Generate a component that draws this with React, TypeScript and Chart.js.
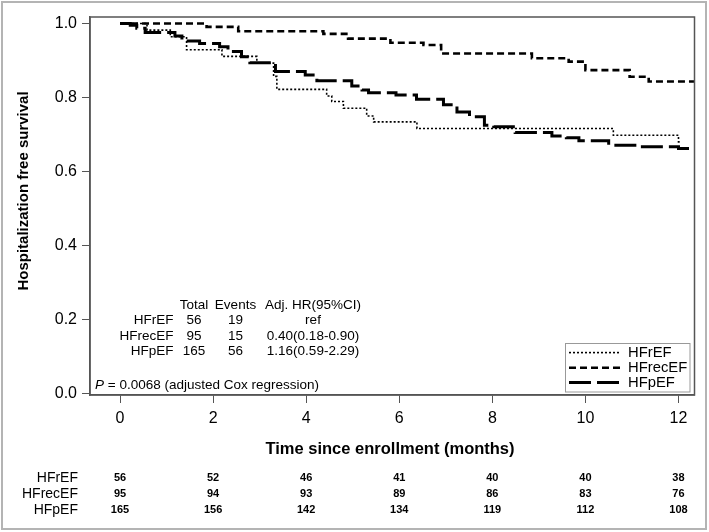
import React, { useEffect, useRef } from 'react';
import { Chart, registerables } from 'chart.js';

Chart.register(...registerables);

const FONT = '"Liberation Sans", Arial, Helvetica, sans-serif';

// ---- data ----
const groups = ['HFrEF', 'HFrecEF', 'HFpEF'];

const hfrefTime = [0, 0.58, 1.08, 1.43, 2.19, 2.94, 3.3, 3.37, 4.44, 4.55, 4.8, 5.3, 5.45, 6.38, 10.6, 12.0, 12.05];
const hfrefSurv = [1.0, 0.982, 0.964, 0.929, 0.911, 0.893, 0.857, 0.822, 0.804, 0.789, 0.771, 0.75, 0.734, 0.716, 0.698, 0.68, 0.68];

const hfrecefTime = [0, 1.86, 2.54, 4.37, 4.9, 5.81, 6.52, 6.9, 8.85, 9.64, 10.0, 10.95, 11.36, 12.36];
const hfrecefSurv = [1.0, 0.991, 0.979, 0.972, 0.959, 0.948, 0.942, 0.919, 0.906, 0.897, 0.874, 0.856, 0.843, 0.843];

const hfpefTime = [0, 0.22, 0.36, 0.54, 1.18, 1.33, 1.71, 2.14, 2.32, 2.61, 2.79, 3.34, 3.98, 4.23, 4.98, 5.2, 5.34, 5.93, 6.37, 6.95, 7.24, 7.51, 7.83, 8.03, 8.49, 9.28, 9.59, 9.86, 10.5, 11.18, 12.0, 12.36];
const hfpefSurv = [1.0, 0.995, 0.987, 0.976, 0.966, 0.953, 0.946, 0.937, 0.924, 0.91, 0.894, 0.87, 0.861, 0.845, 0.831, 0.82, 0.813, 0.807, 0.795, 0.78, 0.761, 0.748, 0.725, 0.721, 0.705, 0.696, 0.691, 0.683, 0.671, 0.667, 0.662, 0.662];

const xTicks = [0, 2, 4, 6, 8, 10, 12];
const yTicks = [0, 0.2, 0.4, 0.6, 0.8, 1.0];

const tableHeaders = ['Total', 'Events', 'Adj. HR(95%CI)'];
const totals = [56, 95, 165];
const events = [19, 15, 56];
const adjHR = ['ref', '0.40(0.18-0.90)', '1.16(0.59-2.29)'];
const pValueText = ' = 0.0068 (adjusted Cox regression)';

const riskTimes = [0, 2, 4, 6, 8, 10, 12];
const riskHFrEF = [56, 52, 46, 41, 40, 40, 38];
const riskHFrecEF = [95, 94, 93, 89, 86, 83, 76];
const riskHFpEF = [165, 156, 142, 134, 119, 112, 108];

const xTitle = 'Time since enrollment (months)';
const yTitle = 'Hospitalization free survival';

// ---- styles ----
const seriesTimes = [hfrefTime, hfrecefTime, hfpefTime];
const seriesSurv = [hfrefSurv, hfrecefSurv, hfpefSurv];
const seriesDash = [[2, 2], [7, 4], [22, 6]];
const seriesWidth = [1.6, 2.6, 3];
const riskRows = [riskHFrEF, riskHFrecEF, riskHFpEF];

const decor = {
  id: 'decor',
  beforeDraw(chart: any) {
    const { ctx, width, height } = chart;
    ctx.save();
    ctx.fillStyle = '#ffffff';
    ctx.fillRect(0, 0, width, height);
    ctx.restore();
  },
  afterDraw(chart: any) {
    const { ctx, chartArea: a, scales } = chart;
    const xs = scales.x;
    ctx.save();
    // frame
    ctx.setLineDash([]);
    ctx.strokeStyle = '#555';
    ctx.lineWidth = 1.5;
    ctx.strokeRect(a.left, a.top, a.right - a.left, a.bottom - a.top);
    // outer border
    ctx.strokeStyle = '#b4b4b4';
    ctx.lineWidth = 2;
    ctx.strokeRect(2, 2, 704, 527);

    ctx.fillStyle = '#000';
    ctx.textBaseline = 'middle';

    // axis titles
    ctx.font = `bold 15px ${FONT}`;
    ctx.textAlign = 'center';
    ctx.save();
    ctx.translate(24, 191);
    ctx.rotate(-Math.PI / 2);
    ctx.fillText(yTitle, 0, 0);
    ctx.restore();
    ctx.font = `bold 16.5px ${FONT}`;
    ctx.fillText(xTitle, 390, 449);

    // HR table
    const colX = [194, 235.5, 313];
    const rowY = [320.3, 336.2, 351.5];
    ctx.font = `13.5px ${FONT}`;
    ctx.textAlign = 'center';
    tableHeaders.forEach((h, i) => ctx.fillText(h, colX[i], 305.3));
    groups.forEach((g, i) => {
      ctx.textAlign = 'right';
      ctx.fillText(g, 173.5, rowY[i]);
      ctx.textAlign = 'center';
      ctx.fillText(String(totals[i]), colX[0], rowY[i]);
      ctx.fillText(String(events[i]), colX[1], rowY[i]);
      ctx.fillText(adjHR[i], colX[2], rowY[i]);
    });
    // P value
    ctx.textAlign = 'left';
    ctx.font = `italic 13.5px ${FONT}`;
    ctx.fillText('P', 95, 385);
    const pw = ctx.measureText('P').width;
    ctx.font = `13.5px ${FONT}`;
    ctx.fillText(pValueText, 95 + pw, 385);

    // legend
    ctx.strokeStyle = '#999';
    ctx.lineWidth = 1;
    ctx.strokeRect(565.5, 343.5, 124.5, 48.5);
    const legY = [352.6, 367.8, 382.5];
    chart.data.datasets.forEach((ds: any, i: number) => {
      ctx.save();
      ctx.strokeStyle = '#000';
      ctx.lineWidth = ds.borderWidth;
      ctx.setLineDash(ds.borderDash);
      ctx.beginPath();
      ctx.moveTo(569, legY[i]);
      ctx.lineTo(620, legY[i]);
      ctx.stroke();
      ctx.restore();
      ctx.font = `14.8px ${FONT}`;
      ctx.textAlign = 'left';
      ctx.fillText(ds.label, 628, legY[i]);
    });

    // risk table
    const riskY = [478, 494, 510];
    groups.forEach((g, i) => {
      ctx.font = `14px ${FONT}`;
      ctx.textAlign = 'right';
      ctx.fillText(g, 78, riskY[i]);
      ctx.font = `bold 11px ${FONT}`;
      ctx.textAlign = 'center';
      riskRows[i].forEach((n, j) => {
        ctx.fillText(String(n), xs.getPixelForValue(riskTimes[j]), riskY[i]);
      });
    });
    ctx.restore();
  },
};

export default function App() {
  const ref = useRef<HTMLCanvasElement | null>(null);
  useEffect(() => {
    document.body.style.margin = '0';
    const canvas = ref.current;
    if (!canvas) return;
    const chart = new Chart(canvas, {
      type: 'line',
      data: {
        datasets: groups.map((g, i) => ({
          label: g,
          data: seriesTimes[i].map((t, j) => ({ x: t, y: seriesSurv[i][j] })),
          stepped: 'before' as const,
          borderColor: '#000',
          borderWidth: seriesWidth[i],
          borderDash: seriesDash[i],
          borderCapStyle: 'butt' as const,
          pointRadius: 0,
          pointHoverRadius: 0,
          fill: false,
          tension: 0,
        })),
      },
      options: {
        responsive: false,
        animation: false,
        devicePixelRatio: 1,
        events: [],
        layout: { padding: { top: 17, right: 14.5, bottom: 0, left: 0 } },
        plugins: {
          legend: { display: false },
          tooltip: { enabled: false },
          title: { display: false },
        },
        scales: {
          x: {
            type: 'linear',
            min: -0.645,
            max: 12.344,
            afterBuildTicks: (s: any) => {
              s.ticks = xTicks.map((v) => ({ value: v }));
            },
            afterFit: (s: any) => {
              s.height = 137;
            },
            grid: { drawOnChartArea: false, drawTicks: true, tickLength: 8, color: '#555', tickColor: '#555', lineWidth: 1 },
            border: { display: true, color: '#555', width: 1.5 },
            ticks: {
              color: '#000',
              font: { size: 16, family: FONT },
              padding: 6,
              maxRotation: 0,
              autoSkip: false,
              callback: (v: any) => String(v),
            },
          },
          y: {
            type: 'linear',
            min: -0.0046,
            max: 1.0176,
            afterBuildTicks: (s: any) => {
              s.ticks = yTicks.map((v) => ({ value: v }));
            },
            afterFit: (s: any) => {
              s.width = 90;
            },
            grid: { drawOnChartArea: false, drawTicks: true, tickLength: 8, color: '#555', tickColor: '#555', lineWidth: 1 },
            border: { display: true, color: '#555', width: 1.5 },
            ticks: {
              color: '#000',
              font: { size: 16, family: FONT },
              padding: 5,
              autoSkip: false,
              callback: (v: any) => Number(v).toFixed(1),
            },
          },
        },
      },
      plugins: [decor],
    });
    return () => chart.destroy();
  }, []);
  return (
    <div style={{ position: 'absolute', left: 0, top: 0, width: 709, height: 532, background: '#fff' }}>
      <canvas ref={ref} width={709} height={532} style={{ display: 'block' }} />
    </div>
  );
}
